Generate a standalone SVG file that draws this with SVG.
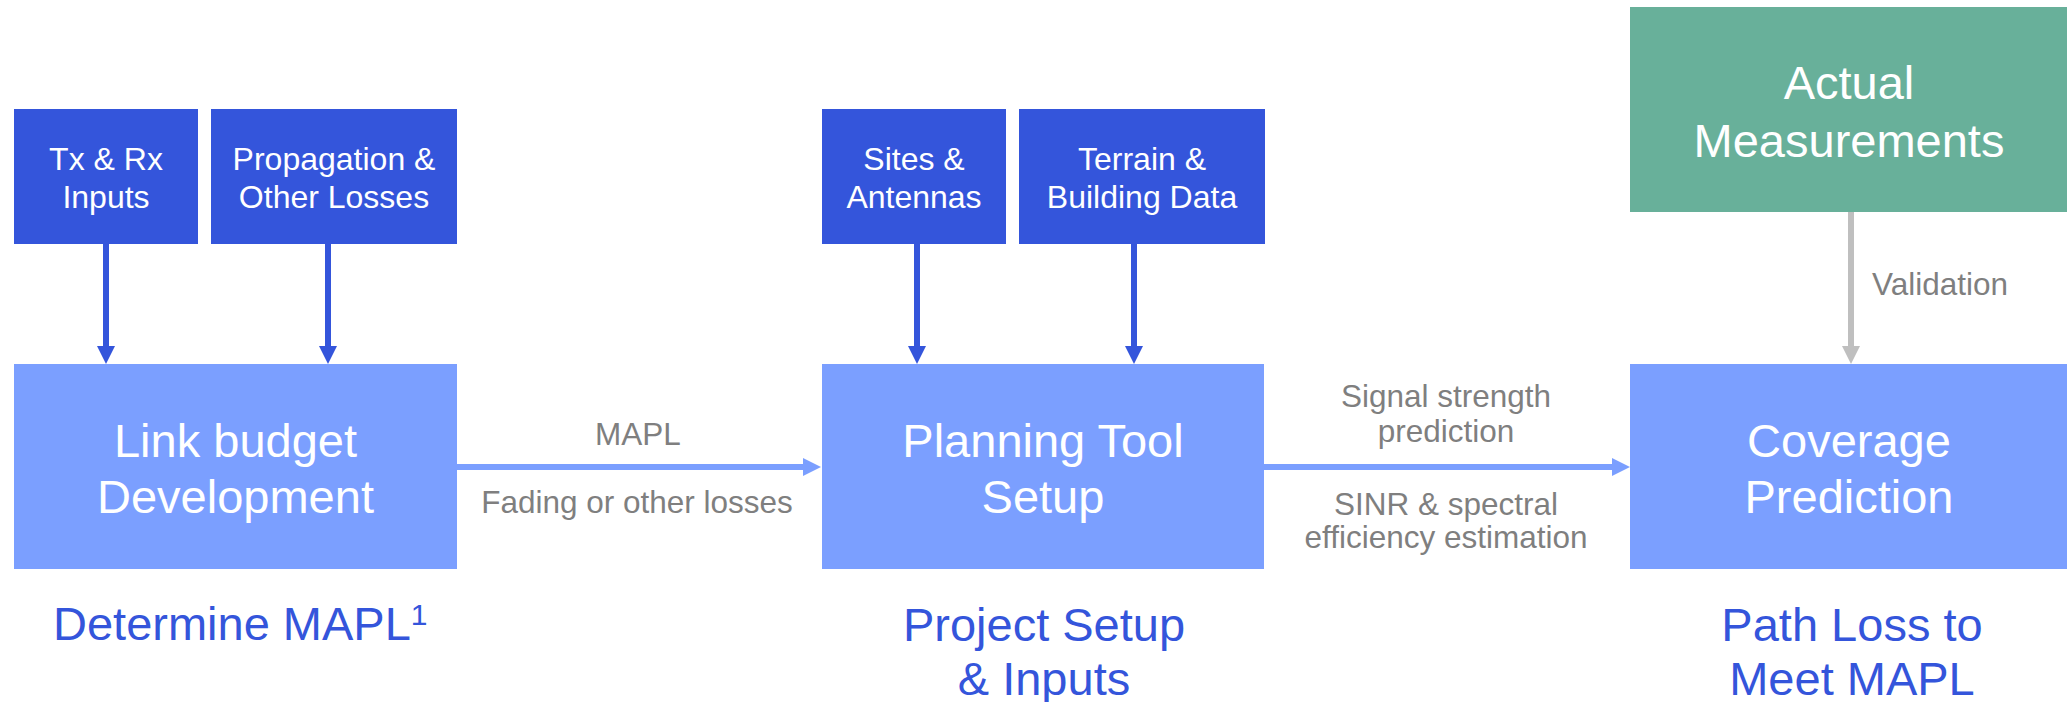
<svg xmlns="http://www.w3.org/2000/svg" width="2067" height="702" viewBox="0 0 2067 702">
<style>
  text { font-family: "Liberation Sans", Arial, sans-serif; }
  .input { fill: #3455DB; }
  .step { fill: #7B9FFF; }
  .meas { fill: #68B09A; }
  .wsmall { fill: #FFFFFF; font-size: 32px; text-anchor: middle; }
  .wbig { fill: #FFFFFF; font-size: 47px; text-anchor: middle; }
  .caption { fill: #3455DB; font-size: 47px; text-anchor: middle; }
  .lbl { fill: #7F7F7F; font-size: 31.5px; text-anchor: middle; }
  .c-dark { stroke: #3455DB; stroke-width: 6; fill: none; }
  .c-light { stroke: #7B9FFF; stroke-width: 6; fill: none; }
  .c-grey { stroke: #BFBFBF; stroke-width: 6; fill: none; }
</style>
<defs>
  <marker id="hDark" markerUnits="userSpaceOnUse" markerWidth="18" markerHeight="18" refX="0" refY="9" orient="auto">
    <path d="M0,0 L18,9 L0,18 Z" fill="#3455DB"/>
  </marker>
  <marker id="hLight" markerUnits="userSpaceOnUse" markerWidth="18" markerHeight="18" refX="0" refY="9" orient="auto">
    <path d="M0,0 L18,9 L0,18 Z" fill="#7B9FFF"/>
  </marker>
  <marker id="hGrey" markerUnits="userSpaceOnUse" markerWidth="18" markerHeight="18" refX="0" refY="9" orient="auto">
    <path d="M0,0 L18,9 L0,18 Z" fill="#BFBFBF"/>
  </marker>
</defs>
<rect width="2067" height="702" fill="#FFFFFF"/>

<g id="connectors">
  <line class="c-dark" x1="106" y1="244" x2="106" y2="346" marker-end="url(#hDark)"/>
  <line class="c-dark" x1="328" y1="244" x2="328" y2="346" marker-end="url(#hDark)"/>
  <line class="c-dark" x1="917" y1="244" x2="917" y2="346" marker-end="url(#hDark)"/>
  <line class="c-dark" x1="1134" y1="244" x2="1134" y2="346" marker-end="url(#hDark)"/>
  <line class="c-light" x1="457" y1="467" x2="803" y2="467" marker-end="url(#hLight)"/>
  <line class="c-light" x1="1264" y1="467" x2="1612" y2="467" marker-end="url(#hLight)"/>
  <line class="c-grey" x1="1851" y1="212" x2="1851" y2="346" marker-end="url(#hGrey)"/>
  <text class="lbl" x="638" y="445">MAPL</text>
  <text class="lbl" x="637" y="513">Fading or other losses</text>
  <text class="lbl" x="1446" y="407">Signal strength</text>
  <text class="lbl" x="1446" y="442">prediction</text>
  <text class="lbl" x="1446" y="515">SINR &amp; spectral</text>
  <text class="lbl" x="1446" y="548">efficiency estimation</text>
  <text class="lbl" x="1872" y="295" style="text-anchor:start">Validation</text>
</g>

<g id="tx-rx-inputs">
  <rect class="input" x="14" y="109" width="184" height="135"/>
  <text class="wsmall" x="106" y="170">Tx &amp; Rx</text>
  <text class="wsmall" x="106" y="208">Inputs</text>
</g>
<g id="propagation-losses">
  <rect class="input" x="211" y="109" width="246" height="135"/>
  <text class="wsmall" x="334" y="170">Propagation &amp;</text>
  <text class="wsmall" x="334" y="208">Other Losses</text>
</g>
<g id="link-budget">
  <rect class="step" x="14" y="364" width="443" height="205"/>
  <text class="wbig" x="235.5" y="457">Link budget</text>
  <text class="wbig" x="235.5" y="513">Development</text>
</g>
<g id="caption-mapl">
  <text class="caption" x="53" y="640" style="text-anchor:start">Determine MAPL<tspan font-size="30" dy="-15">1</tspan></text>
</g>

<g id="sites-antennas">
  <rect class="input" x="822" y="109" width="184" height="135"/>
  <text class="wsmall" x="914" y="170">Sites &amp;</text>
  <text class="wsmall" x="914" y="208">Antennas</text>
</g>
<g id="terrain-building">
  <rect class="input" x="1019" y="109" width="246" height="135"/>
  <text class="wsmall" x="1142" y="170">Terrain &amp;</text>
  <text class="wsmall" x="1142" y="208">Building Data</text>
</g>
<g id="planning-tool">
  <rect class="step" x="822" y="364" width="442" height="205"/>
  <text class="wbig" x="1043" y="457">Planning Tool</text>
  <text class="wbig" x="1043" y="513">Setup</text>
</g>
<g id="caption-project">
  <text class="caption" x="1044" y="641">Project Setup</text>
  <text class="caption" x="1044" y="695">&amp; Inputs</text>
</g>

<g id="actual-measurements">
  <rect class="meas" x="1630" y="7" width="437" height="205"/>
  <text class="wbig" x="1849" y="99">Actual</text>
  <text class="wbig" x="1849" y="157">Measurements</text>
</g>
<g id="coverage-prediction">
  <rect class="step" x="1630" y="364" width="437" height="205"/>
  <text class="wbig" x="1849" y="457">Coverage</text>
  <text class="wbig" x="1849" y="513">Prediction</text>
</g>
<g id="caption-pathloss">
  <text class="caption" x="1852" y="641">Path Loss to</text>
  <text class="caption" x="1852" y="695">Meet MAPL</text>
</g>
</svg>
